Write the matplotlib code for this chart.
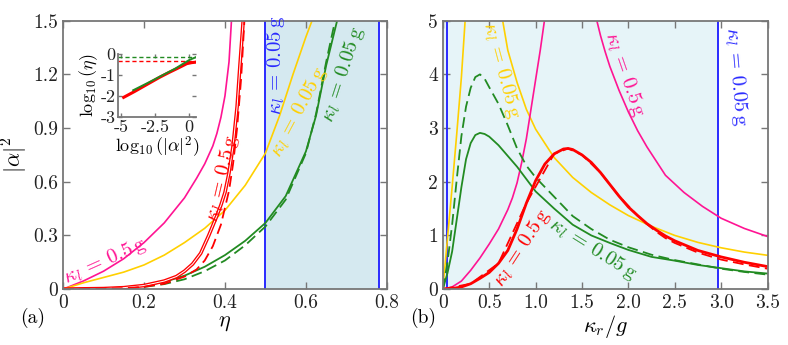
import matplotlib.pyplot as plt

plt.rcParams['mathtext.fontset'] = 'cm'
plt.rcParams['font.family'] = 'serif'
plt.rcParams['font.serif'] = ['cmr10', 'DejaVu Serif']
plt.rcParams['axes.unicode_minus'] = False
plt.rcParams['axes.formatter.use_mathtext'] = True

# ---- panel (a): |alpha|^2 vs eta ----
eta_mag = [0, 0.05, 0.1, 0.15, 0.2, 0.25, 0.3, 0.33, 0.35, 0.37, 0.38, 0.39, 0.4, 0.41, 0.416]
a_mag = [0, 0.045, 0.1, 0.17, 0.26, 0.37, 0.51, 0.62, 0.7, 0.8, 0.87, 0.96, 1.08, 1.27, 1.5]

eta_yel = [0, 0.05, 0.1, 0.15, 0.2, 0.25, 0.3, 0.35, 0.4, 0.45, 0.5, 0.535, 0.568, 0.6, 0.615]
a_yel = [0, 0.035, 0.065, 0.095, 0.135, 0.19, 0.26, 0.34, 0.44, 0.58, 0.76, 0.97, 1.2, 1.41, 1.5]

eta_red = [0, 0.1, 0.15, 0.2, 0.25, 0.28, 0.3, 0.32, 0.34, 0.36, 0.38, 0.39, 0.4, 0.41, 0.42, 0.43, 0.437, 0.445]
a_red = [0, 0.003, 0.008, 0.02, 0.045, 0.07, 0.1, 0.14, 0.2, 0.3, 0.41, 0.47, 0.54, 0.65, 0.8, 1.02, 1.25, 1.5]
eta_red_d = [0, 0.15, 0.2, 0.25, 0.3, 0.33, 0.35, 0.37, 0.39, 0.41, 0.42, 0.43, 0.44, 0.448]
a_red_d = [0, 0.005, 0.013, 0.03, 0.07, 0.11, 0.16, 0.24, 0.36, 0.55, 0.7, 0.9, 1.18, 1.5]

eta_grn = [0, 0.1, 0.15, 0.2, 0.25, 0.3, 0.35, 0.4, 0.45, 0.5, 0.55, 0.6, 0.625, 0.65, 0.677]
a_grn = [0, 0.003, 0.01, 0.02, 0.04, 0.075, 0.125, 0.19, 0.27, 0.37, 0.52, 0.77, 0.97, 1.25, 1.5]
eta_grn_d = [0, 0.15, 0.2, 0.25, 0.3, 0.35, 0.4, 0.45, 0.5, 0.55, 0.6, 0.625, 0.65, 0.672]
a_grn_d = [0, 0.005, 0.012, 0.028, 0.055, 0.1, 0.16, 0.245, 0.35, 0.5, 0.76, 0.98, 1.27, 1.5]

eta_band = [0.5, 0.78]

# inset: log10(eta) vs log10(|alpha|^2)
ins_x_red = [-4.8, -4, -3, -2.13, -1.5, -0.9, -0.5, -0.17, 0.2, 0.5]
ins_y_red = [-2.08, -1.8, -1.43, -1.11, -0.9, -0.71, -0.58, -0.47, -0.42, -0.4]
ins_x_grn = [-4.1, -3, -2, -1, -0.5, 0, 0.5]
ins_y_grn = [-1.74, -1.38, -1.04, -0.7, -0.5, -0.3, -0.16]
ins_lim_red = -0.354
ins_lim_grn = -0.167

# ---- panel (b): |alpha|^2 vs kappa_r/g ----
k_yel1 = [0, 0.05, 0.1, 0.15, 0.2, 0.24]
a_yel1 = [0, 0.95, 1.9, 2.9, 3.95, 5.0]
k_yel2 = [0.645, 0.7, 0.8, 0.9, 1.0, 1.2, 1.4, 1.6, 1.8, 2.0, 2.25, 2.5, 2.75, 3.0, 3.25, 3.5]
a_yel2 = [5.0, 4.45, 3.85, 3.35, 2.98, 2.45, 2.08, 1.8, 1.57, 1.37, 1.17, 1.0, 0.87, 0.77, 0.69, 0.63]

k_mag1 = [0, 0.1, 0.2, 0.3, 0.4, 0.5, 0.6, 0.7, 0.75, 0.8, 0.85, 0.9, 0.95, 1.0, 1.05, 1.095]
a_mag1 = [0, 0.04, 0.15, 0.35, 0.58, 0.84, 1.12, 1.48, 1.7, 1.98, 2.36, 2.8, 3.35, 3.9, 4.45, 5.0]
k_mag2 = [1.66, 1.7, 1.75, 1.8, 1.9, 2.0, 2.1, 2.2, 2.4, 2.6, 2.8, 3.0, 3.25, 3.5]
a_mag2 = [5.0, 4.72, 4.42, 4.15, 3.7, 3.3, 2.95, 2.65, 2.12, 1.8, 1.54, 1.32, 1.13, 0.98]

k_red = [0, 0.1, 0.2, 0.3, 0.4, 0.5, 0.6, 0.7, 0.8, 0.9, 1.0, 1.1, 1.2, 1.3, 1.35, 1.4, 1.5,
         1.6, 1.7, 1.8, 1.9, 2.0, 2.1, 2.2, 2.3, 2.4, 2.5, 2.75, 3.0, 3.25, 3.5]
a_red_b = [0, 0.01, 0.04, 0.1, 0.2, 0.31, 0.48, 0.72, 1.12, 1.6, 2.02, 2.33, 2.52, 2.61, 2.62,
           2.6, 2.5, 2.36, 2.17, 1.95, 1.73, 1.53, 1.37, 1.22, 1.1, 0.99, 0.9, 0.72, 0.6, 0.5, 0.42]
k_red_d = [0, 0.3, 0.6, 0.9, 1.2, 1.35, 1.5, 1.7, 1.9, 2.1, 2.2, 2.3, 2.4, 2.5, 2.75, 3.0, 3.25, 3.5]
a_red_bd = [0, 0.1, 0.48, 1.6, 2.52, 2.62, 2.5, 2.17, 1.73, 1.37, 1.21, 1.07, 0.95, 0.86, 0.68, 0.55, 0.46, 0.38]

k_grn = [0, 0.05, 0.1, 0.15, 0.2, 0.25, 0.3, 0.35, 0.4, 0.45, 0.5, 0.6, 0.7, 0.8, 0.9, 1.0,
         1.2, 1.4, 1.6, 1.8, 2.0, 2.25, 2.5, 2.75, 3.0, 3.25, 3.5]
a_grn_b = [0, 0.3, 0.7, 1.3, 1.9, 2.42, 2.72, 2.87, 2.91, 2.89, 2.84, 2.68, 2.48, 2.28, 2.05, 1.82,
           1.5, 1.2, 1.0, 0.86, 0.73, 0.6, 0.53, 0.45, 0.39, 0.33, 0.29]
k_grn_d = [0, 0.05, 0.1, 0.15, 0.2, 0.25, 0.3, 0.35, 0.4, 0.45, 0.5, 0.6, 0.7, 0.8, 0.9, 1.0,
           1.1, 1.2, 1.4, 1.6, 1.8, 2.0, 2.25, 2.5, 2.75, 3.0, 3.25, 3.5]
a_grn_bd = [0, 0.5, 1.2, 2.05, 2.85, 3.4, 3.75, 3.95, 4.0, 3.92, 3.76, 3.45, 3.05, 2.62, 2.3, 2.08,
            1.9, 1.72, 1.36, 1.12, 0.92, 0.78, 0.64, 0.54, 0.46, 0.38, 0.32, 0.27]

k_band = [0.05, 2.97]

MAG = '#ff1493'
YEL = '#ffd000'
RED = '#ff0000'
GRN = '#228b22'
BLU = '#2a2aff'
SPINE = '#777777'


def style_axes(ax, size=14):
    for s in ax.spines.values():
        s.set_color(SPINE)
        s.set_linewidth(1.3)
    ax.tick_params(direction='in', top=True, right=True, length=5, width=1,
                   color=SPINE, labelsize=size, labelcolor='#222222')


fig = plt.figure(figsize=(7.88, 3.45), dpi=100)

# panel (a)
ax1 = fig.add_axes([0.080, 0.162, 0.411, 0.778])
ax1.axvspan(eta_band[0], eta_band[1], color='#d5e9f0', lw=0)
for e in eta_band:
    ax1.axvline(e, color=BLU, lw=1.4)
ax1.plot(eta_mag, a_mag, color=MAG, lw=1.2)
ax1.plot(eta_yel, a_yel, color=YEL, lw=1.2)
ax1.plot(eta_grn, a_grn, color=GRN, lw=1.3)
ax1.plot(eta_grn_d, a_grn_d, color=GRN, lw=1.3, dashes=(6, 3))
ax1.plot(eta_red, a_red, color=RED, lw=2.6)
ax1.plot(eta_red, a_red, color='white', lw=0.7)
ax1.plot(eta_red_d, a_red_d, color=RED, lw=1.3, dashes=(6, 3))
ax1.set_xlim(0, 0.8)
ax1.set_ylim(0, 1.5)
ax1.set_xticks([0, 0.2, 0.4, 0.6, 0.8])
ax1.set_xticklabels(['0', '0.2', '0.4', '0.6', '0.8'])
ax1.set_yticks([0, 0.3, 0.6, 0.9, 1.2, 1.5])
ax1.set_yticklabels(['0', '0.3', '0.6', '0.9', '1.2', '1.5'])
ax1.set_xlabel(r'$\eta$', fontsize=16, labelpad=1)
ax1.set_ylabel(r'$|\alpha|^2$', fontsize=16, labelpad=2)
style_axes(ax1)

lab = dict(ha='center', va='center', rotation_mode='anchor', fontsize=15)
ax1.text(0.104, 0.156, r'$\kappa_l\,=\,0.5\,\mathrm{g}$', color=MAG, rotation=24, **lab)
ax1.text(0.393, 0.62, r'$\kappa_l\,=\,0.5\,\mathrm{g}$', color=RED, rotation=77, **lab)
ax1.text(0.527, 1.25, r'$\kappa_l\,=\,0.05\,\mathrm{g}$', color=BLU, rotation=90, **lab)
ax1.text(0.582, 0.99, r'$\kappa_l\,=\,0.05\,\mathrm{g}$', color=YEL, rotation=62, **lab)
ax1.text(0.692, 1.2, r'$\kappa_l\,=\,0.05\,\mathrm{g}$', color=GRN, rotation=72, **lab)

# inset
axi = fig.add_axes([0.150, 0.662, 0.0986, 0.182])
axi.axhline(ins_lim_grn, color=GRN, lw=1, dashes=(3, 2))
axi.axhline(ins_lim_red, color=RED, lw=1, dashes=(3, 2))
axi.plot(ins_x_red, ins_y_red, color=RED, lw=2.2)
axi.plot(ins_x_grn, ins_y_grn, color=GRN, lw=1.4)
axi.set_xlim(-5.2, 0.5)
axi.set_ylim(-3, 0)
axi.set_xticks([-5, -2.5, 0])
axi.set_xticklabels(['-5', '-2.5', '0'])
axi.set_yticks([0, -1, -2, -3])
axi.set_yticklabels(['0', '-1', '-2', '-3'])
axi.set_xlabel(r'$\log_{10}(|\alpha|^2)$', fontsize=13, labelpad=0)
axi.set_ylabel(r'$\log_{10}(\eta)$', fontsize=13, labelpad=0)
style_axes(axi, size=13)
axi.spines['top'].set_visible(False)
axi.spines['right'].set_visible(False)
axi.tick_params(length=3, pad=2)

# panel (b)
ax2 = fig.add_axes([0.562, 0.162, 0.412, 0.778])
ax2.axvspan(0, k_band[1], color='#e6f4f8', lw=0)
for k in k_band:
    ax2.axvline(k, color=BLU, lw=1.4)
ax2.plot(k_yel1, a_yel1, color=YEL, lw=1.2)
ax2.plot(k_yel2, a_yel2, color=YEL, lw=1.2)
ax2.plot(k_mag1, a_mag1, color=MAG, lw=1.2)
ax2.plot(k_mag2, a_mag2, color=MAG, lw=1.2)
ax2.plot(k_grn, a_grn_b, color=GRN, lw=1.3)
ax2.plot(k_grn_d, a_grn_bd, color=GRN, lw=1.3, dashes=(6, 3))
ax2.plot(k_red_d, a_red_bd, color=RED, lw=1.3, dashes=(6, 3))
ax2.plot(k_red, a_red_b, color=RED, lw=2.0)
ax2.set_xlim(0, 3.5)
ax2.set_ylim(0, 5)
ax2.set_xticks([0, 0.5, 1.0, 1.5, 2.0, 2.5, 3.0, 3.5])
ax2.set_xticklabels(['0', '0.5', '1.0', '1.5', '2.0', '2.5', '3.0', '3.5'])
ax2.set_yticks([0, 1, 2, 3, 4, 5])
ax2.set_yticklabels(['0', '1', '2', '3', '4', '5'])
ax2.set_xlabel(r'$\kappa_r/g$', fontsize=16, labelpad=1)
style_axes(ax2)

ax2.text(0.628, 4.08, r'$\kappa_l\,=\,0.05\,\mathrm{g}$', color=YEL, rotation=-75, **lab)
ax2.text(1.963, 3.99, r'$\kappa_l\,=\,0.5\,\mathrm{g}$', color=MAG, rotation=-71, **lab)
ax2.text(3.16, 3.95, r'$\kappa_l\,=\,0.05\,\mathrm{g}$', color=BLU, rotation=-85, **lab)
ax2.text(0.85, 0.77, r'$\kappa_l\,=\,0.5\,\mathrm{g}$', color=RED, rotation=57, **lab)
ax2.text(1.62, 0.74, r'$\kappa_l\,=\,0.05\,\mathrm{g}$', color=GRN, rotation=-32, **lab)

fig.text(0.042, 0.078, '(a)', fontsize=14, ha='center', va='center')
fig.text(0.537, 0.078, '(b)', fontsize=14, ha='center', va='center')

fig.savefig('out.png', dpi=100)
